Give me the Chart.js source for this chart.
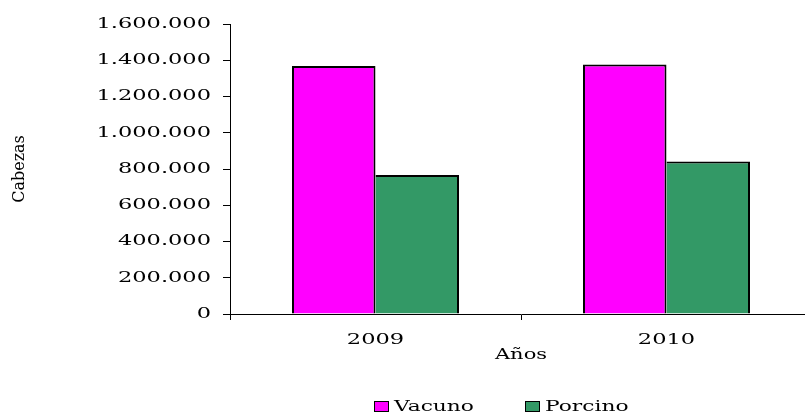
<!DOCTYPE html>
<html>
<head>
<meta charset="utf-8">
<script src="https://cdn.jsdelivr.net/npm/chart.js@4"></script>
<style>
  html, body { margin: 0; padding: 0; background: #fff; overflow: hidden; }
  #wrap { position: relative; width: 812px; height: 414px; }
  #legend { position: absolute; top: 396px; left: 0; height: 20px; font: 15px "DejaVu Serif", serif; color: #000; }
  .item { position: absolute; top: 0; line-height: 20px; white-space: nowrap; display: flex; align-items: center; }
  .box { width: 15px; height: 11px; border: 1.5px solid #000; box-sizing: border-box; margin-right: 5px; }
  .txt { display: inline-block; transform: scaleX(1.45); transform-origin: left center; }
</style>
</head>
<body>
<div id="wrap">
  <canvas id="chart" width="812" height="414"></canvas>
  <div id="legend"></div>
</div>
<script>
const years = ["2009", "2010"];
const vacuno = [1368000, 1377000];
const porcino = [767000, 842000];
const seriesNames = ["Vacuno", "Porcino"];
const seriesColors = ["#ff00ff", "#339966"];

// the original lettering is stretched sideways, so widen horizontal text
const K = 1.5;
const wideText = {
  id: "wideText",
  beforeDraw(chart) {
    const c = chart.ctx;
    if (c._wide) return;
    c._wide = true;
    const fill = c.fillText;
    c.fillText = function (text, x, y, maxWidth) {
      const m = this.getTransform();
      this.save();
      this.translate(x, y);
      if (m.b === 0 && m.c === 0) this.scale(K, 1);
      if (maxWidth === undefined) fill.call(this, text, 0, 0);
      else fill.call(this, text, 0, 0, maxWidth / K);
      this.restore();
    };
  }
};

function miles(v) {
  return String(v).replace(/\B(?=(\d{3})+(?!\d))/g, ".");
}

const ctx = document.getElementById("chart");
new Chart(ctx, {
  type: "bar",
  data: {
    labels: years,
    datasets: [
      {
        label: seriesNames[0], data: vacuno, backgroundColor: seriesColors[0],
        borderColor: "#000", borderWidth: { top: 2, left: 2, right: 2, bottom: 0 }
      },
      {
        label: seriesNames[1], data: porcino, backgroundColor: seriesColors[1],
        borderColor: "#000", borderWidth: { top: 2, left: 0, right: 2, bottom: 0 }
      }
    ]
  },
  plugins: [wideText],
  options: {
    responsive: false,
    animation: false,
    layout: { padding: { top: 24, right: 0, bottom: 50, left: 0 } },
    datasets: { bar: { categoryPercentage: 0.574, barPercentage: 1 } },
    plugins: {
      legend: { display: false },
      tooltip: { enabled: false }
    },
    scales: {
      x: {
        offset: true,
        grid: { display: true, drawOnChartArea: false, offset: true, tickLength: 6, color: "#000" },
        border: { color: "#000", width: 1 },
        ticks: { color: "#000", padding: 11, font: { family: "DejaVu Serif", size: 15 } },
        title: { display: true, text: "Años", color: "#000", padding: 0, font: { family: "DejaVu Serif", size: 14 } },
        afterFit(scale) { scale.height = 50; }
      },
      y: {
        min: 0,
        max: 1600000,
        ticks: { stepSize: 200000, color: "#000", padding: 12, font: { family: "DejaVu Serif", size: 15 }, callback: (v) => miles(v) },
        grid: { display: true, drawOnChartArea: false, tickLength: 7, color: "#000" },
        border: { color: "#000", width: 1 },
        title: { display: true, text: "Cabezas", color: "#000", padding: 10, font: { family: "DejaVu Serif", size: 16 } },
        afterFit(scale) { scale.width = 230; }
      }
    }
  }
});

// legend below the plot, built from the same series
const legend = document.getElementById("legend");
const legendLeft = [374, 525];
seriesNames.forEach((name, i) => {
  const item = document.createElement("div");
  item.className = "item";
  item.style.left = legendLeft[i] + "px";
  const box = document.createElement("span");
  box.className = "box";
  box.style.background = seriesColors[i];
  const txt = document.createElement("span");
  txt.className = "txt";
  txt.textContent = name;
  item.appendChild(box);
  item.appendChild(txt);
  legend.appendChild(item);
});
</script>
</body>
</html>
